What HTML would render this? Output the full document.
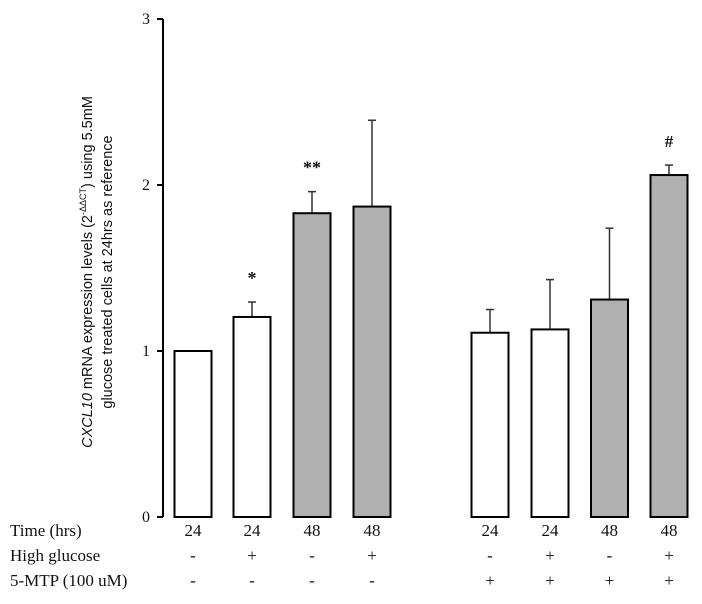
<!DOCTYPE html>
<html><head><meta charset="utf-8"><style>
body{margin:0;background:#fff}
svg text{font-family:"Liberation Serif",serif;fill:#111}
</style></head><body>
<svg id="chart" width="702" height="599" viewBox="0 0 702 599" xmlns="http://www.w3.org/2000/svg">
<g id="axis"></g>
<g id="bars"></g>
<g id="rows"></g>
<text transform="translate(92,272) rotate(-90)" text-anchor="middle" style="font-family:'Liberation Sans',sans-serif;font-size:14.5px"><tspan font-style="italic">CXCL10</tspan> mRNA expression levels (2<tspan font-size="9" dy="-6">-ΔΔCT</tspan><tspan dy="6">) using 5.5mM</tspan></text>
<text transform="translate(112,272) rotate(-90)" text-anchor="middle" style="font-family:'Liberation Sans',sans-serif;font-size:14.5px">glucose treated cells at 24hrs as reference</text>
</svg>
<script>
const centers=[193,252,312,372,490,550,609.5,669];
const values=[1.0,1.205,1.83,1.87,1.11,1.13,1.31,2.06];
const errors=[1.0,1.295,1.96,2.39,1.25,1.43,1.74,2.12];
const shaded=[false,false,true,true,false,false,true,true];
const marks=["","*","**","","","","","#"];
const yTicks=[0,1,2,3];
const timeRow=["24","24","48","48","24","24","48","48"];
const glucoseRow=["-","+","-","+","-","+","-","+"];
const mtpRow=["-","-","-","-","+","+","+","+"];
const NS="http://www.w3.org/2000/svg";
const y=v=>517-v*166;
function mk(tag,attrs,parent){const e=document.createElementNS(NS,tag);for(const k in attrs)e.setAttribute(k,attrs[k]);parent.appendChild(e);return e;}
const ax=document.getElementById('axis'),bars=document.getElementById('bars'),rows=document.getElementById('rows');
let l=mk('line',{x1:163,x2:163,y1:y(3),y2:y(0),stroke:'#000','stroke-width':2},ax);


yTicks.forEach(t=>{
 const tk=mk('line',{x1:157,x2:163,y1:y(t),y2:y(t),stroke:'#000','stroke-width':2},ax);
 
 
 const tx=mk('text',{x:150,y:y(t)+5,'text-anchor':'end','font-size':16},ax);
 tx.textContent=t;
 
 
});
const w=37;
centers.forEach((c,i)=>{
 if(errors[i]>values[i]){
  const e=mk('line',{x1:c,x2:c,y1:y(errors[i]),y2:y(values[i]),stroke:'#333','stroke-width':1.5},bars);
  
  
  const cap=mk('line',{x1:c-4,x2:c+4,y1:y(errors[i]),y2:y(errors[i]),stroke:'#333','stroke-width':1.5},bars);
  
  
 }
 const r=mk('rect',{x:c-w/2,y:y(values[i]),width:w,height:y(0)-y(values[i]),fill:shaded[i]?'#b0b0b0':'#fff',stroke:'#000','stroke-width':2},bars);
 
 
 if(marks[i]){
  const m=mk('text',{x:c,y:y(errors[i])-18,'text-anchor':'middle','font-size':marks[i]=='#'?17:18,'font-weight':'bold','font-family':'Liberation Sans,sans-serif'},bars);
  m.textContent=marks[i];
  
  
 }
});
const rowDefs=[["Time (hrs)",timeRow,536],["High glucose",glucoseRow,561],["5-MTP (100 uM)",mtpRow,586]];
rowDefs.forEach(([lab,arr,yy])=>{
 const t=mk('text',{x:10,y:yy,'font-size':17},rows);
 t.textContent=lab;
 
 
 arr.forEach((v,i)=>{
  const s=mk('text',{x:centers[i],y:yy,'text-anchor':'middle','font-size':17},rows);
  s.textContent=v;
  
  
 });
});
</script>
</body></html>
